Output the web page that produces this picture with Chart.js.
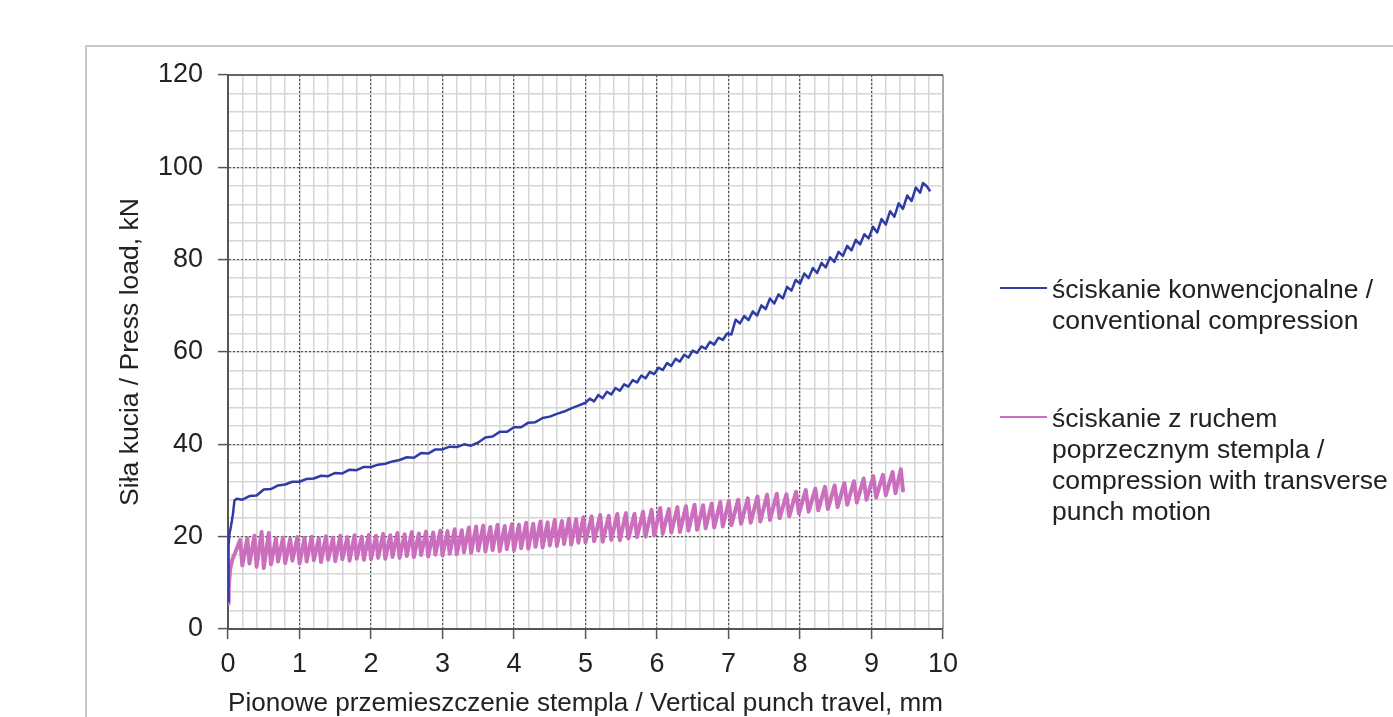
<!DOCTYPE html>
<html>
<head>
<meta charset="utf-8">
<script src="https://cdn.jsdelivr.net/npm/chart.js@4.4.1/dist/chart.umd.min.js"></script>
<style>
  html, body { margin: 0; padding: 0; background: #fff; }
  #wrap { position: relative; width: 1393px; height: 717px; overflow: hidden; }
  #frame { position: absolute; left: 85px; top: 45px; width: 1400px; height: 700px; border: 2px solid #c8c8c8; }
  #chart { position: absolute; left: 0; top: 0; }
  .legend { position: absolute; left: 1000px; font-family: "Liberation Sans", Arial, sans-serif; font-size: 26.5px; line-height: 31px; color: #222; }
  .legend .key { position: absolute; left: 0; top: 13px; width: 47px; height: 0; border-top: 2px solid; }
  .legend .txt { margin-left: 52px; white-space: nowrap; }
</style>
</head>
<body>
<div id="wrap">
  <div id="frame"></div>
  <canvas id="chart" width="1393" height="730"></canvas>
  <div class="legend" id="leg1" style="top:274px"><div class="key" style="border-color:#2F3CA6"></div><div class="txt"></div></div>
  <div class="legend" id="leg2" style="top:403px"><div class="key" style="border-color:#CC6EBE"></div><div class="txt"></div></div>
</div>
<script>
// axis ranges / labels
const xMin = 0, xMax = 10, xStep = 1, xMinorStep = 0.2;
const yMin = 0, yMax = 120, yStep = 20, yMinorStep = 4;
const xTitle = "Pionowe przemieszczenie stempla / Vertical punch travel, mm";
const yTitle = "Siła kucia / Press load, kN";

const seriesNames = [
  ["ściskanie konwencjonalne /", "conventional compression"],
  ["ściskanie z ruchem", "poprzecznym stempla /", "compression with transverse", "punch motion"]
];

// conventional compression [mm, kN]
const blueSeries = [
  [0, 6], [0.005, 12], [0.01, 18], [0.02, 20.5], [0.05, 23], [0.07, 25], [0.09, 27.8], [0.12, 28.2],
  [0.2, 28.0], [0.3, 28.8], [0.4, 28.9], [0.5, 30.2], [0.6, 30.3], [0.7, 31.1], [0.8, 31.3], [0.9, 31.9],
  [1.0, 31.9], [1.1, 32.5], [1.2, 32.6], [1.3, 33.2], [1.4, 33.1], [1.5, 33.8], [1.6, 33.7], [1.7, 34.5],
  [1.8, 34.4], [1.9, 35.1], [2.0, 35.1], [2.1, 35.6], [2.2, 35.8], [2.3, 36.3], [2.4, 36.6], [2.5, 37.2],
  [2.6, 37.1], [2.7, 38.1], [2.8, 38.0], [2.9, 38.9], [3.0, 38.9], [3.1, 39.5], [3.2, 39.4], [3.3, 40.0],
  [3.4, 39.7], [3.5, 40.4], [3.6, 41.5], [3.7, 41.7], [3.8, 42.7], [3.9, 42.7], [4.0, 43.7], [4.1, 43.7],
  [4.2, 44.7], [4.3, 44.8], [4.4, 45.7], [4.5, 46.0], [4.6, 46.6], [4.7, 47.1], [4.8, 47.8], [4.9, 48.4],
  [5.00, 49.0], [5.06, 49.9], [5.12, 49.3], [5.18, 50.7], [5.24, 50.0], [5.30, 51.4], [5.36, 50.8], [5.42, 52.2],
  [5.48, 51.6], [5.54, 53.0], [5.60, 52.5], [5.66, 53.9], [5.72, 53.4], [5.78, 54.9], [5.84, 54.3], [5.90, 55.7],
  [5.96, 55.2], [6.02, 56.6], [6.08, 56.1], [6.14, 57.6], [6.20, 57.0], [6.26, 58.5], [6.32, 57.9], [6.38, 59.4],
  [6.44, 58.8], [6.50, 60.3], [6.56, 59.8], [6.62, 61.2], [6.68, 60.7], [6.74, 62.2], [6.80, 61.6], [6.86, 63.1],
  [6.92, 62.6], [6.98, 64.0], [7.04, 63.8], [7.10, 67.0], [7.16, 66.2], [7.22, 67.8], [7.28, 66.9], [7.34, 68.8],
  [7.40, 67.9], [7.46, 70.1], [7.52, 69.3], [7.58, 71.6], [7.64, 70.5], [7.70, 72.5], [7.76, 71.6], [7.82, 74.1],
  [7.88, 73.3], [7.94, 75.6], [8.00, 74.8], [8.06, 77.0], [8.12, 76.0], [8.18, 78.2], [8.24, 77.1], [8.30, 79.3],
  [8.36, 78.3], [8.42, 80.5], [8.48, 79.5], [8.54, 81.7], [8.60, 80.8], [8.66, 83.0], [8.72, 82.0], [8.78, 84.3],
  [8.84, 83.3], [8.90, 85.5], [8.96, 84.6], [9.02, 87.1], [9.08, 85.9], [9.14, 88.8], [9.20, 87.6], [9.26, 90.5],
  [9.32, 89.3], [9.38, 92.2], [9.44, 91.0], [9.50, 93.9], [9.56, 92.7], [9.62, 95.6], [9.68, 94.5], [9.72, 96.6],
  [9.78, 95.8], [9.82, 94.8]
];

// compression with transverse punch motion [mm, kN]
const pinkSeries = [
  [0, 5.5], [0.01, 9], [0.03, 13], [0.06, 15], [0.10, 16.5],
  [0.17, 19.3], [0.20, 13.8], [0.27, 19.6], [0.30, 14.2], [0.37, 20.2], [0.40, 13.5], [0.47, 21.0], [0.50, 13.2],
  [0.57, 20.8], [0.60, 14.0], [0.67, 19.6], [0.70, 14.6], [0.77, 19.8], [0.80, 14.3], [0.87, 19.5], [0.90, 14.8],
  [0.97, 19.9], [1.00, 14.2], [1.07, 19.7], [1.10, 14.6], [1.17, 20.0], [1.20, 14.9], [1.27, 19.6], [1.30, 14.5],
  [1.37, 20.1], [1.40, 15.0], [1.47, 19.8], [1.50, 14.7], [1.57, 20.2], [1.60, 15.1], [1.67, 19.9], [1.70, 14.8],
  [1.77, 20.3], [1.80, 15.2], [1.87, 20.0], [1.90, 15.0], [1.97, 20.4], [2.00, 15.1], [2.07, 20.2], [2.10, 15.4],
  [2.17, 20.6], [2.20, 15.2], [2.27, 20.3], [2.30, 15.6], [2.37, 20.8], [2.40, 15.4], [2.47, 20.5], [2.50, 15.8],
  [2.57, 21.0], [2.60, 15.6], [2.67, 20.7], [2.70, 16.0], [2.77, 21.1], [2.80, 15.7], [2.87, 20.9], [2.90, 16.1],
  [2.97, 21.3], [3.00, 15.9], [3.07, 21.2], [3.10, 16.3], [3.17, 21.6], [3.20, 16.2], [3.27, 21.4], [3.30, 16.6],
  [3.37, 22.0], [3.40, 16.5], [3.47, 22.2], [3.50, 17.0], [3.57, 22.4], [3.60, 16.8], [3.67, 22.1], [3.70, 17.1],
  [3.77, 22.6], [3.80, 16.9], [3.87, 22.3], [3.90, 17.3], [3.97, 22.7], [4.00, 17.1], [4.07, 22.6], [4.10, 17.5],
  [4.17, 23.0], [4.20, 17.4], [4.27, 22.8], [4.30, 17.8], [4.37, 23.3], [4.40, 17.7], [4.47, 23.1], [4.50, 18.1],
  [4.57, 23.6], [4.60, 18.0], [4.67, 23.4], [4.70, 18.4], [4.77, 23.9], [4.80, 18.3], [4.87, 23.8], [4.90, 18.7],
  [4.97, 24.2], [5.00, 18.8], [5.085, 24.4], [5.12, 19.0], [5.205, 24.7], [5.24, 18.9], [5.325, 24.5], [5.36, 19.3],
  [5.445, 24.9], [5.48, 19.2], [5.565, 25.1], [5.60, 19.6], [5.685, 24.9], [5.72, 19.9], [5.805, 25.4], [5.84, 20.0],
  [5.925, 25.8], [5.96, 20.3], [6.045, 26.2], [6.08, 20.6], [6.165, 26.0], [6.20, 20.9], [6.285, 26.4], [6.32, 21.0],
  [6.405, 26.6], [6.44, 21.3], [6.525, 26.9], [6.56, 21.5], [6.645, 26.8], [6.68, 21.8], [6.765, 27.2], [6.80, 22.0],
  [6.885, 27.5], [6.92, 22.2], [7.005, 27.7], [7.04, 22.5], [7.135, 28.0], [7.175, 22.8], [7.27, 28.3], [7.31, 23.0],
  [7.405, 28.7], [7.445, 23.3], [7.54, 29.1], [7.58, 23.6], [7.675, 29.3], [7.715, 24.0], [7.81, 29.2], [7.85, 24.4],
  [7.945, 29.7], [7.985, 25.0], [8.08, 30.1], [8.12, 25.4], [8.215, 30.4], [8.255, 25.7], [8.35, 30.8], [8.39, 26.0],
  [8.485, 31.1], [8.525, 26.4], [8.62, 31.6], [8.66, 26.9], [8.755, 32.0], [8.795, 27.4], [8.89, 32.6], [8.93, 28.0],
  [9.025, 33.1], [9.065, 28.5], [9.16, 33.4], [9.20, 29.0], [9.295, 34.0], [9.335, 29.4], [9.41, 34.6], [9.44, 30.0]
];

const fontFamily = '"Liberation Sans", Arial, sans-serif';
const near = (a, b) => Math.abs(a - b) < 1e-6;

document.querySelector("#leg1 .txt").innerHTML = seriesNames[0].join("<br>");
document.querySelector("#leg2 .txt").innerHTML = seriesNames[1].join("<br>");

const config = {
  type: "line",
  data: {
    datasets: [
      {
        label: seriesNames[0].join(" "),
        data: blueSeries,
        borderColor: "#2F3CA6",
        borderWidth: 2.5,
        borderJoinStyle: "round",
        pointRadius: 0,
        tension: 0,
        fill: false
      },
      {
        label: seriesNames[1].join(" "),
        data: pinkSeries,
        borderColor: "#CC6EBE",
        borderWidth: 4,
        borderJoinStyle: "round",
        borderCapStyle: "round",
        pointRadius: 0,
        tension: 0,
        fill: false
      }
    ]
  },
  options: {
    responsive: false,
    animation: false,
    devicePixelRatio: 1,
    layout: { padding: { left: 0, right: 450, top: 75, bottom: 0 } },
    plugins: { legend: { display: false }, tooltip: { enabled: false } },
    scales: {
      xMinor: {
        type: "linear", position: "bottom", min: xMin, max: xMax,
        ticks: { display: false, stepSize: xMinorStep, autoSkip: false },
        grid: {
          z: -2, drawTicks: false,
          color: (c) => near(c.tick.value, xMax) ? "#a8a8a8" : "#d6d6d6",
          lineWidth: (c) => near(c.tick.value, xMax) ? 2 : 1.5
        },
        border: { display: false },
        afterFit: (s) => { s.height = 0; }
      },
      yMinor: {
        type: "linear", position: "left", min: yMin, max: yMax,
        ticks: { display: false, stepSize: yMinorStep, autoSkip: false },
        grid: {
          z: -2, drawTicks: false,
          color: (c) => near(c.tick.value, yMax) ? "#666" : "#d6d6d6",
          lineWidth: (c) => near(c.tick.value, yMax) ? 2 : 1.5
        },
        border: { display: false },
        afterFit: (s) => { s.width = 0; }
      },
      x: {
        type: "linear", position: "bottom", min: xMin, max: xMax,
        ticks: { stepSize: xStep, autoSkip: false, padding: 9, color: "#222", font: { family: fontFamily, size: 27 } },
        grid: {
          color: (c) => (near(c.tick.value, xMin) || near(c.tick.value, xMax)) ? "rgba(0,0,0,0)" : "#555",
          lineWidth: 1.2, tickLength: 10, tickColor: "#555", tickWidth: 1.5
        },
        border: { color: "#555", width: 2, dash: [2, 2] },
        title: { display: true, text: xTitle, color: "#222", font: { family: fontFamily, size: 26.5 }, padding: { top: 0, bottom: 10 } },
        afterFit: (s) => { s.height = 101; }
      },
      y: {
        type: "linear", position: "left", min: yMin, max: yMax,
        ticks: { stepSize: yStep, autoSkip: false, padding: 15, color: "#222", font: { family: fontFamily, size: 27 } },
        grid: {
          color: (c) => (near(c.tick.value, yMin) || near(c.tick.value, yMax)) ? "rgba(0,0,0,0)" : "#555",
          lineWidth: 1.2, tickLength: 10, tickColor: "#555", tickWidth: 1.5
        },
        border: { color: "#555", width: 2, dash: [2, 2] },
        title: { display: true, text: yTitle, color: "#222", font: { family: fontFamily, size: 26.5 }, padding: { top: 115, bottom: 0 } },
        afterFit: (s) => { s.width = 228; }
      }
    }
  }
};

const chart = new Chart(document.getElementById("chart"), config);
</script>
</body>
</html>
